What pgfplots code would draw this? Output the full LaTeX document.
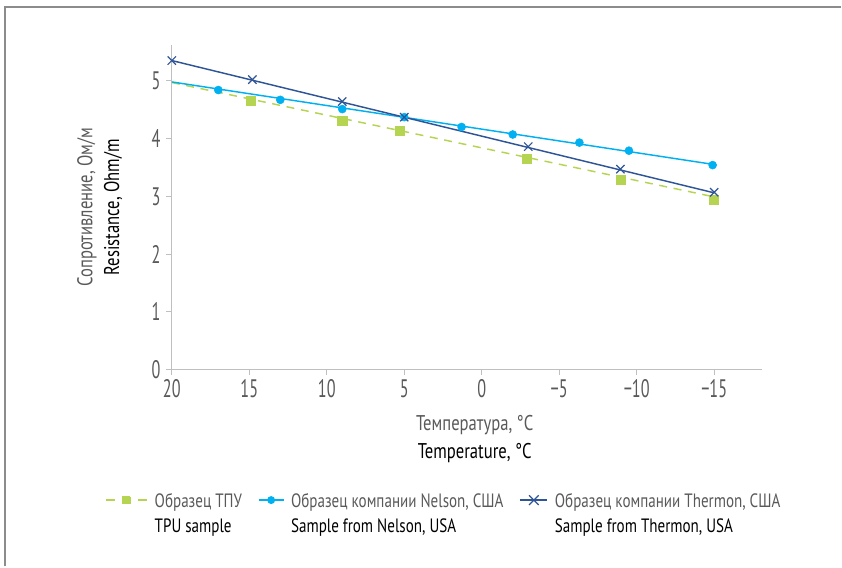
\documentclass[border=0pt]{standalone}
\usepackage{fontspec}
\setmainfont{PT Sans}[FakeStretch=0.78]
\newfontfamily\tickfont{PT Sans}[FakeStretch=0.64]
\usepackage{pgfplots}
\pgfplotsset{compat=1.18}
\definecolor{tpu}{RGB}{181,212,82}
\definecolor{nelson}{RGB}{0,176,240}
\definecolor{thermon}{RGB}{47,85,151}
\definecolor{txtgray}{RGB}{89,89,89}
\definecolor{axgray}{RGB}{191,191,191}
\definecolor{framegray}{RGB}{140,140,140}
\begin{document}
\begin{tikzpicture}
\path (0,0) rectangle (631.5pt,425.25pt);
\draw[framegray, line width=1.3pt] (3.75pt,0) -- (3.75pt,420pt) -- (631.5pt,420pt);
\begin{axis}[
  at={(129pt,147.75pt)}, anchor=south west,
  scale only axis, width=443.25pt, height=243.75pt,
  x dir=reverse, xmin=-18.1, xmax=20, ymin=0, ymax=5.62,
  axis x line*=bottom, axis y line*=left,
  axis line style={draw=axgray, line width=0.9pt, -},
  tick style={draw=axgray, line width=0.8pt},
  tick align=outside, major tick length=4pt,
  xtick={20,15,10,5,0,-5,-10,-15},
  xticklabels={20,15,10,5,0,−5,−10,−15},
  ytick={0,1,2,3,4,5},
  ticklabel style={font=\tickfont\fontsize{19}{21}\selectfont, text=txtgray},
  yticklabel style={xshift=-1pt},
  /pgf/number format/assume math mode=true,
  xlabel={{\color{txtgray}Температура, °C}\\Temperature, °C},
  xlabel style={align=center, font=\fontsize{16}{21}\selectfont,
    at={(axis description cs:0.513,-0.214)}, anchor=center},
  ylabel={{\color{txtgray}Сопротивление, Ом/м}\\Resistance, Ohm/m},
  ylabel style={align=center, font=\fontsize{16}{20}\selectfont,
    at={(axis description cs:-0.122,0.5)}, anchor=center},
  legend columns=3,
  legend cell align=left,
  legend style={draw=none, fill=none, at={(0.461,-0.355)}, anchor=north,
    font=\fontsize{14.5}{18.5}\selectfont,
    /tikz/every odd column/.append style={column sep=3pt},
    /tikz/every even column/.append style={column sep=10pt}},
]
% trend lines (legend entries)
\addplot[tpu, line width=1.1pt, dash pattern=on 6pt off 5pt, no markers,
  legend image code/.code={
    \draw[tpu, line width=1.1pt, dash pattern=on 0.24cm off 0.62cm] (0cm,0cm) -- (1.1cm,0cm);
    \fill[tpu] (0.55cm,0cm) +(-2.7pt,-2.7pt) rectangle +(2.7pt,2.7pt);}]
  coordinates {(20,4.97) (-15,2.99)};
\addlegendentry{\begin{tabular}[t]{@{}l@{}}{\color{txtgray}Образец ТПУ}\\TPU sample\end{tabular}}
\addplot[nelson, line width=1.1pt, no markers,
  legend image code/.code={
    \draw[nelson, line width=1.1pt] (0cm,0cm) -- (0.66cm,0cm);
    \fill[nelson] (0.33cm,0cm) circle (2.4pt);}]
  coordinates {(20,4.98) (-15,3.55)};
\addlegendentry{\begin{tabular}[t]{@{}l@{}}{\color{txtgray}Образец компании Nelson, США}\\Sample from Nelson, USA\end{tabular}}
\addplot[thermon, line width=1.1pt, no markers,
  legend image code/.code={
    \draw[thermon, line width=1.1pt] (0cm,0cm) -- (0.72cm,0cm);
    \draw[thermon, line width=0.9pt] (0.36cm,0cm) +(-3.6pt,-3.6pt) -- +(3.6pt,3.6pt) +(-3.6pt,3.6pt) -- +(3.6pt,-3.6pt);}]
  coordinates {(20,5.35) (-15,3.06)};
\addlegendentry{\begin{tabular}[t]{@{}l@{}}{\color{txtgray}Образец компании Thermon, США}\\Sample from Thermon, USA\end{tabular}}
% measured points
\addplot[only marks, mark=square*, mark size=3.4pt, color=tpu, forget plot]
  coordinates {(14.9,4.65) (9.0,4.31) (5.3,4.13) (-2.9,3.65) (-9.0,3.28) (-15.0,2.94)};
\addplot[only marks, mark=*, mark size=3.0pt, color=nelson, forget plot]
  coordinates {(17.0,4.84) (13.0,4.67) (9.0,4.51) (5.0,4.37) (1.3,4.20) (-2.0,4.07) (-6.3,3.93) (-9.5,3.79) (-14.9,3.54)};
\addplot[only marks, mark=x, mark size=4.4pt, color=thermon, line width=0.9pt, forget plot]
  coordinates {(20,5.35) (14.8,5.02) (9.0,4.64) (5.0,4.37) (-3.0,3.86) (-8.95,3.47) (-15.0,3.07)};
\end{axis}
\end{tikzpicture}
\end{document}
